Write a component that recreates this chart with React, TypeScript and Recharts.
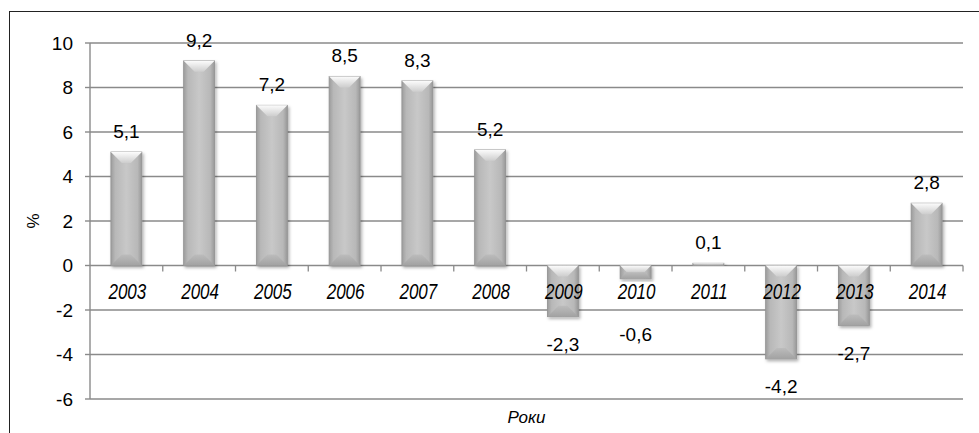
import React from "react";
import { Bar, BarChart, CartesianGrid, LabelList, XAxis, YAxis } from "recharts";

const years = ["2003", "2004", "2005", "2006", "2007", "2008", "2009", "2010", "2011", "2012", "2013", "2014"];
const growth = [5.1, 9.2, 7.2, 8.5, 8.3, 5.2, -2.3, -0.6, 0.1, -4.2, -2.7, 2.8];
const yTicks = [-6, -4, -2, 0, 2, 4, 6, 8, 10];

const data = years.map((year, i) => ({ year, value: growth[i] }));

const FONT = "'Liberation Sans', Arial, sans-serif";
const GRID = "#8a8a8a";
const GAP = 0.287;

const fmt = (v: number) => v.toFixed(1).replace(".", ",");

function box(p: any) {
  const vb = p.viewBox || p;
  const x = Number(p.x ?? vb.x);
  const y = Number(p.y ?? vb.y);
  const width = Number(p.width ?? vb.width);
  const height = Number(p.height ?? vb.height);
  const top = height < 0 ? y + height : y;
  return { x, top, width, h: Math.abs(height) };
}

function BevelBar(props: any) {
  const { x, top, width, h } = box(props);
  if (!h || !width) return null;
  const b = Math.min(11, h / 2, width / 2);
  const bottom = top + h;
  return (
    <g filter="url(#barShadow)">
      <rect x={x} y={top} width={width} height={h} fill="url(#barFace)" stroke="#939393" strokeWidth={0.8} />
      <polygon
        points={`${x},${top} ${x + width},${top} ${x + width - b},${top + b} ${x + b},${top + b}`}
        fill="url(#bevelTop)"
      />
      <polygon
        points={`${x},${bottom} ${x + width},${bottom} ${x + width - b},${bottom - b} ${x + b},${bottom - b}`}
        fill="url(#bevelBottom)"
      />
    </g>
  );
}

function ValueLabel(props: any) {
  const { x, top, width, h } = box(props);
  const v = growth[props.index];
  const cx = x + width / 2;
  const zero = v >= 0 ? top + h : top;
  const y = v >= 0 ? top - 14 : Math.max(top + h + 34, zero + 75);
  return (
    <text x={cx} y={y} textAnchor="middle" fontFamily={FONT} fontSize={19} fill="#000">
      {fmt(v)}
    </text>
  );
}

function YearLabel(props: any) {
  const { x, top, width, h } = box(props);
  const v = growth[props.index];
  const cx = x + width / 2;
  const zero = v >= 0 ? top + h : top;
  const band = width / (1 - 2 * GAP);
  const tx = cx + band / 2;
  return (
    <g>
      <line x1={tx} x2={tx} y1={zero} y2={zero + 6} stroke={GRID} strokeWidth={1.3} />
      <text
        x={0}
        y={0}
        transform={`translate(${cx + 1} ${zero + 33}) scale(1 1.3)`}
        textAnchor="middle"
        fontFamily={FONT}
        fontStyle="italic"
        fontSize={17}
        fill="#000"
      >
        {years[props.index]}
      </text>
    </g>
  );
}

export default function App() {
  return (
    <div style={{ position: "absolute", left: 0, top: 0, width: 979, height: 433, background: "#fff", overflow: "hidden" }}>
      <div
        style={{
          position: "absolute",
          left: 9,
          top: 11,
          width: 980,
          height: 440,
          borderLeft: "1px solid #222",
          borderTop: "1px solid #222",
        }}
      />
      <BarChart
        width={979}
        height={433}
        data={data}
        margin={{ top: 43, right: 16, bottom: 0, left: 0 }}
        barCategoryGap={`${GAP * 100}%`}
        style={{ position: "absolute", left: 0, top: 0 }}
      >
        <defs>
          <linearGradient id="barFace" x1="0" y1="0" x2="1" y2="0">
            <stop offset="0%" stopColor="#9c9c9c" />
            <stop offset="14%" stopColor="#b8b8b8" />
            <stop offset="50%" stopColor="#c8c8c8" />
            <stop offset="86%" stopColor="#b8b8b8" />
            <stop offset="100%" stopColor="#989898" />
          </linearGradient>
          <linearGradient id="bevelTop" x1="0" y1="0" x2="0" y2="1">
            <stop offset="0%" stopColor="#fcfcfc" />
            <stop offset="100%" stopColor="#cdcdcd" />
          </linearGradient>
          <linearGradient id="bevelBottom" x1="0" y1="0" x2="0" y2="1">
            <stop offset="0%" stopColor="#bcbcbc" />
            <stop offset="100%" stopColor="#a2a2a2" />
          </linearGradient>
          <filter id="barShadow" x="-20%" y="-20%" width="140%" height="140%">
            <feDropShadow dx={1.5} dy={2} stdDeviation={1.5} floodColor="#000" floodOpacity={0.3} />
          </filter>
        </defs>
        <CartesianGrid vertical={false} stroke={GRID} strokeWidth={1.4} />
        <XAxis
          dataKey="year"
          height={34}
          tick={false}
          tickLine={false}
          axisLine={false}
          label={{
            position: "center",
            content: (p: any) => (
              <text
                x={p.viewBox.x + p.viewBox.width / 2}
                y={p.viewBox.y + p.viewBox.height / 2 + 7}
                textAnchor="middle"
                fontFamily={FONT}
                fontStyle="italic"
                fontSize={17}
                fill="#000"
              >
                Роки
              </text>
            ),
          }}
        />
        <YAxis
          domain={[-6, 10]}
          ticks={yTicks}
          width={90}
          interval={0}
          axisLine={{ stroke: GRID, strokeWidth: 1.4 }}
          tickLine={{ stroke: GRID, strokeWidth: 1.4 }}
          tickSize={5}
          tickMargin={12}
          tick={{ fill: "#000", fontSize: 19, fontFamily: FONT }}
          label={{
            position: "insideLeft",
            content: (p: any) => {
              const cx = p.viewBox.x + 33;
              const cy = p.viewBox.y + p.viewBox.height / 2;
              return (
                <text
                  x={cx}
                  y={cy}
                  transform={`rotate(-90 ${cx} ${cy})`}
                  textAnchor="middle"
                  dominantBaseline="central"
                  fontFamily={FONT}
                  fontSize={17}
                  fill="#000"
                >
                  %
                </text>
              );
            },
          }}
        />
        <Bar dataKey="value" shape={<BevelBar />} isAnimationActive={false}>
          <LabelList dataKey="value" content={<ValueLabel />} />
          <LabelList dataKey="year" content={<YearLabel />} />
        </Bar>
      </BarChart>
    </div>
  );
}
